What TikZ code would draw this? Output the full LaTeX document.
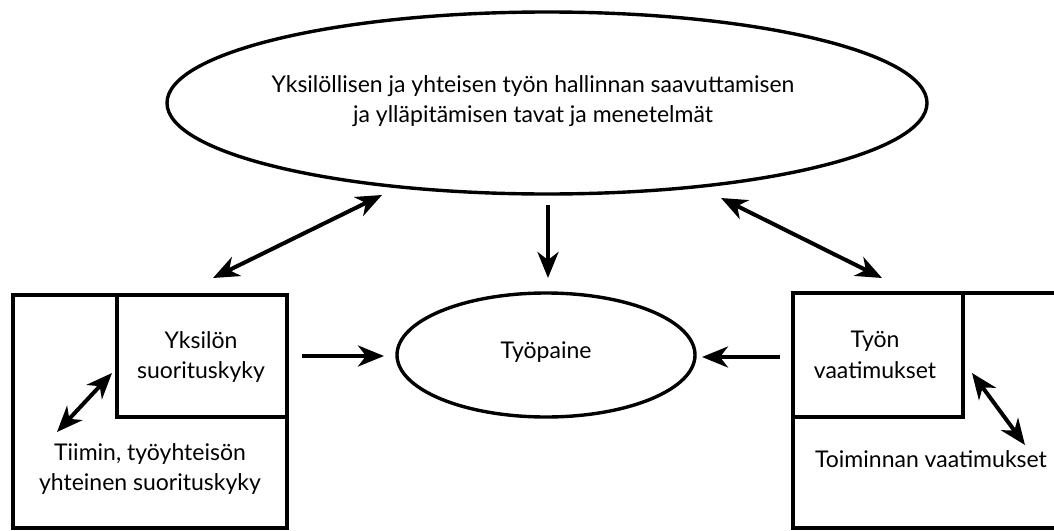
\documentclass[tikz,border=0pt]{standalone}
\usepackage{fontspec}
\setmainfont{Lato}
\usetikzlibrary{arrows.meta,shapes.geometric}
\begin{document}
\begin{tikzpicture}[x=1pt,y=1pt,
  txt/.style={align=center,font=\fontsize{23}{30.5}\selectfont,inner sep=0pt},
  ell/.style={draw,ellipse,line width=3.4pt,inner sep=0pt},
  arr/.style={line width=4pt,-{Stealth[length=26pt,width=21pt,inset=8pt]}},
  darr/.style={line width=4pt,{Stealth[length=26pt,width=21pt,inset=8pt]}-{Stealth[length=26pt,width=21pt,inset=8pt]}}]
\useasboundingbox (0,0) rectangle (1054,-530);
\clip (0,0) rectangle (1054,-530);
% big ellipse
\node[ell,minimum width=760,minimum height=182] (big) at (547,-103) {};
\node[txt] (top) at (533,-101) {Yksilöllisen ja yhteisen työn hallinnan saavuttamisen\\ja ylläpitämisen tavat ja menetelmät};
% small ellipse
\node[ell,minimum width=298,minimum height=124] (tpe) at (546,-355) {};
\node[txt] (tp) at (546,-352) {Työpaine};
% left boxes
\draw[line width=4pt] (13,-295) rectangle (287,-528);
\draw[line width=4pt] (117,-295) rectangle (287,-417);
\node[txt] (yks) at (201,-357) {Yksilön\\suorituskyky};
\node[txt] (tiim) at (150,-469) {Tiimin, työyhteisön\\yhteinen suorituskyky};
% right boxes
\draw[line width=4pt] (793,-293) -- (1060,-293);
\draw[line width=4pt] (793,-293) rectangle (963,-417);
\draw[line width=4pt] (793,-293) -- (793,-528) -- (1060,-528);
\node[txt] (tyon) at (875,-355) {Työn\\vaatimukset};
\node[txt] (toim) at (931,-459) {Toiminnan vaatimukset};
% connector coordinates
\coordinate (a1) at (382,-195);
\coordinate (a2) at (213,-278);
\coordinate (b1) at (721,-198);
\coordinate (b2) at (882,-278);
\coordinate (c1) at (548,-205);
\coordinate (c2) at (548,-278);
\coordinate (d1) at (302,-356);
\coordinate (d2) at (384,-356);
\coordinate (e1) at (780,-357);
\coordinate (e2) at (702,-357);
\coordinate (f1) at (112,-373);
\coordinate (f2) at (57,-432);
\coordinate (g1) at (972,-373);
\coordinate (g2) at (1025,-445);
\draw[darr] (a2) -- (a1);
\draw[darr] (b1) -- (b2);
\draw[arr] (c1) -- (c2);
\draw[arr] (d1) -- (d2);
\draw[arr] (e1) -- (e2);
\draw[darr] (f2) -- (f1);
\draw[darr] (g1) -- (g2);
\end{tikzpicture}
\end{document}
